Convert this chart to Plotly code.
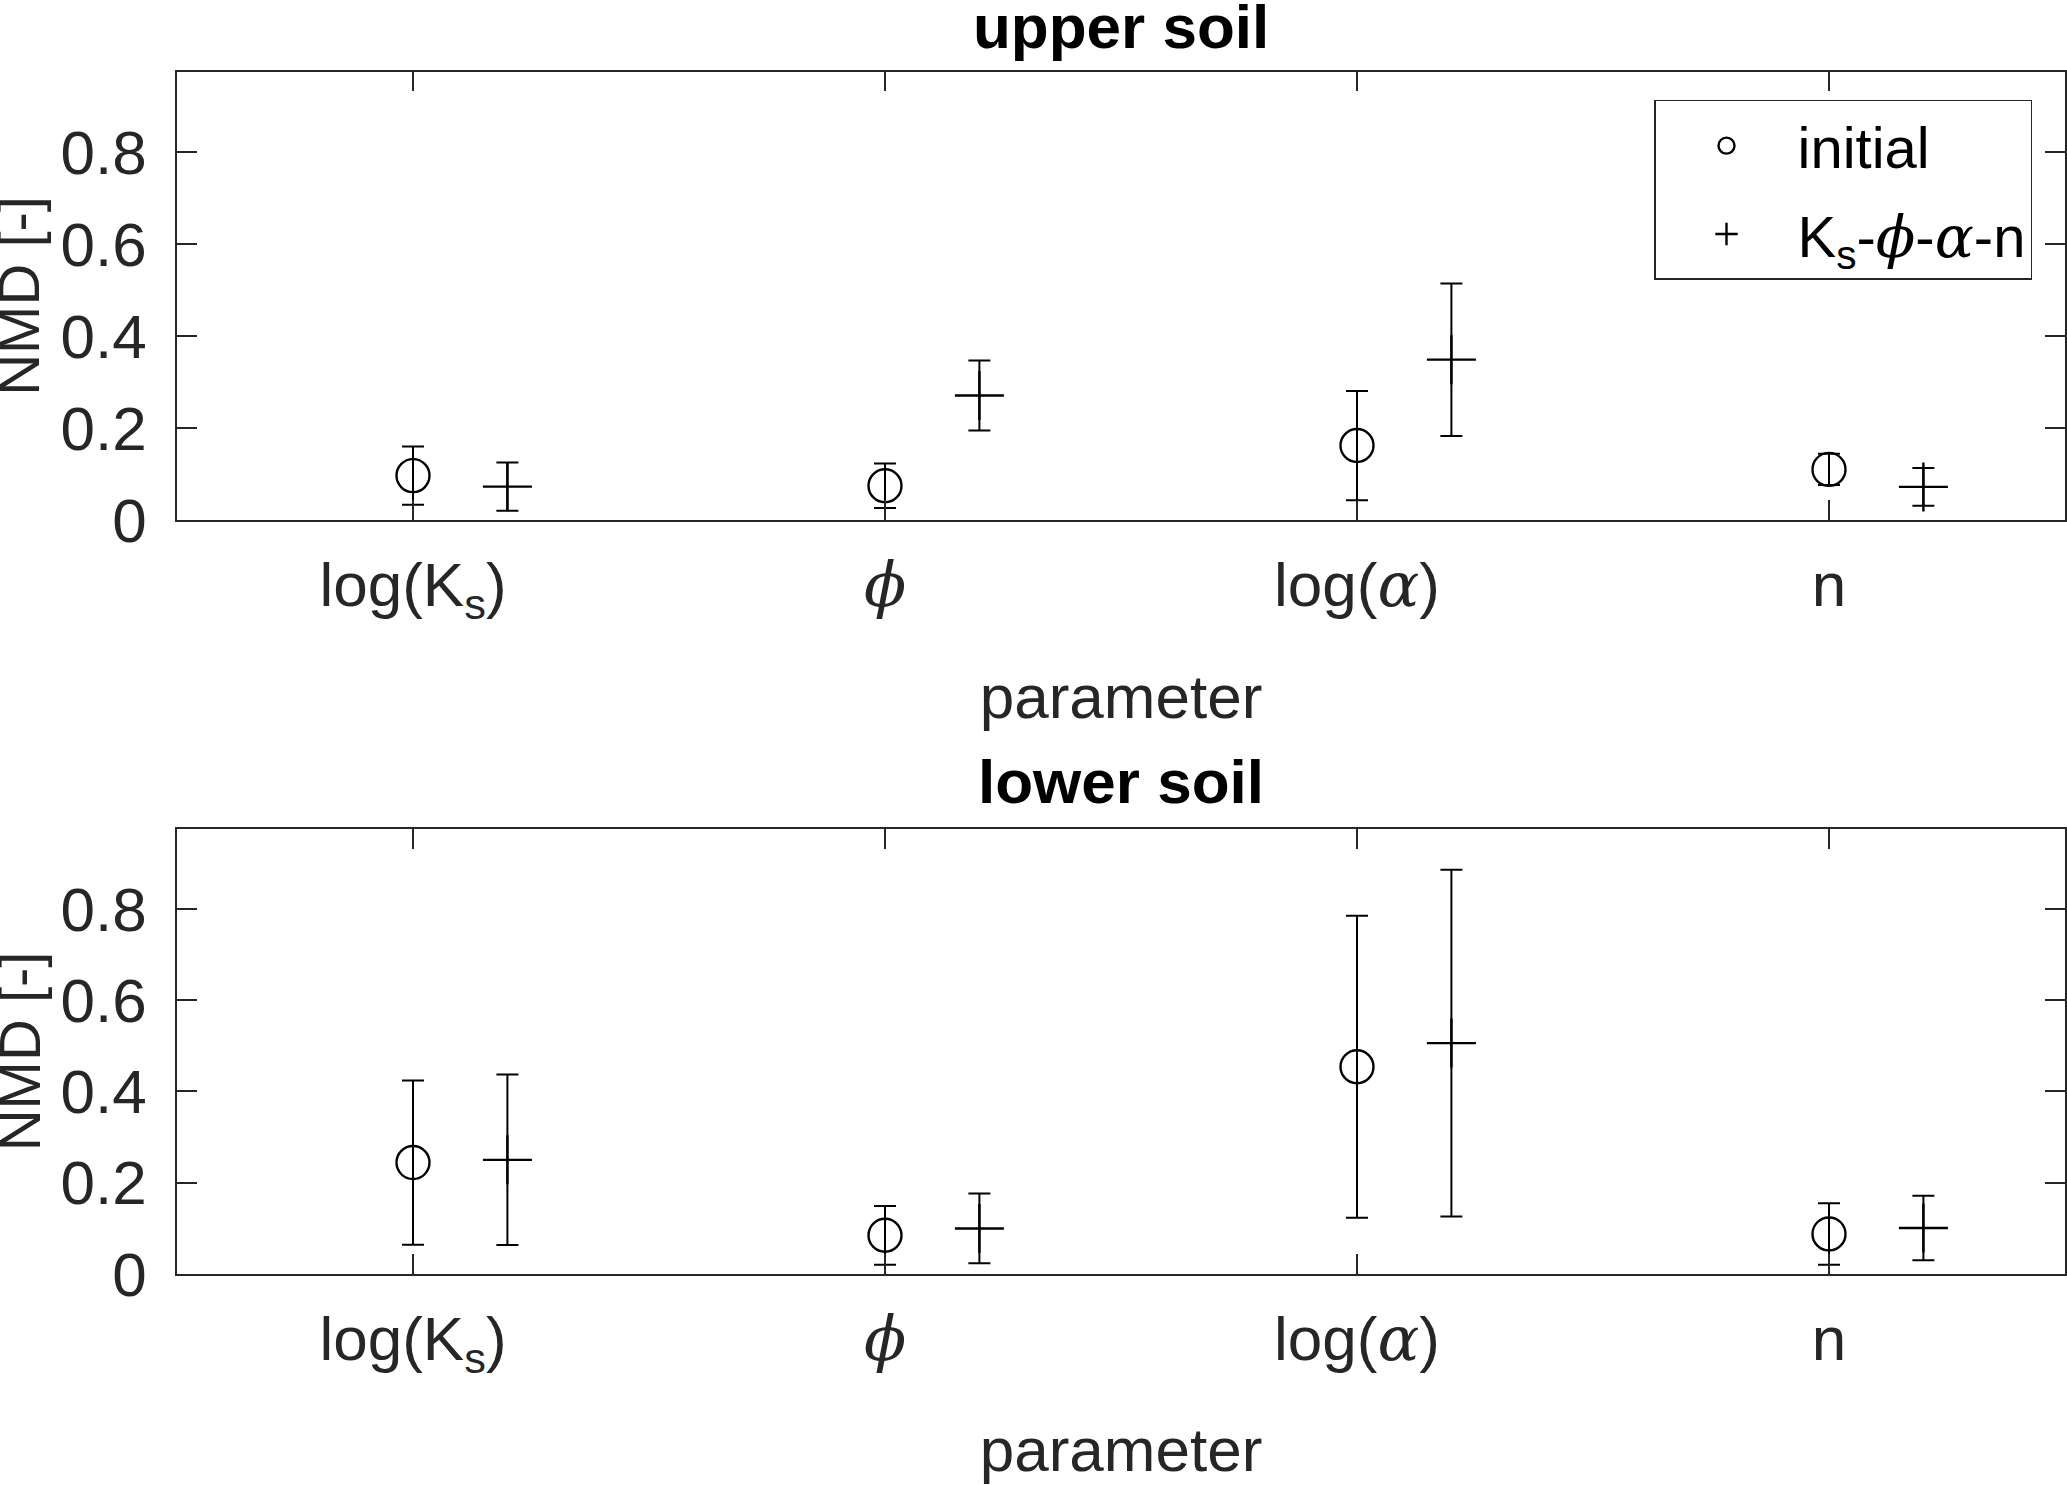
import plotly.graph_objects as go

GREEK = "<span style=\"font-family:'DejaVu Serif'\"><i>{}</i></span>"

# parameters on the x axis
params = ["log(K<sub>s</sub>)", GREEK.format("ϕ"), "log(" + GREEK.format("α") + ")", "n"]
x_pos = [1, 2, 3, 4]

# upper soil: NMD mean and spread
upper_init_mean = [0.0965, 0.0745, 0.162, 0.110]
upper_init_err = [0.0635, 0.0485, 0.119, 0.034]
upper_ks_mean = [0.0725, 0.271, 0.349, 0.072]
upper_ks_err = [0.0525, 0.076, 0.166, 0.041]

# lower soil
lower_init_mean = [0.244, 0.0845, 0.454, 0.0875]
lower_init_err = [0.180, 0.0645, 0.331, 0.0675]
lower_ks_mean = [0.250, 0.0995, 0.506, 0.1005]
lower_ks_err = [0.187, 0.0765, 0.380, 0.0705]

series_names = ["initial",
                "K<sub>s</sub>-" + GREEK.format("ϕ") + "-" + GREEK.format("α") + "-n"]

FONT = "Liberation Sans, Arial, Helvetica, sans-serif"
AXC = "#262626"
W, H = 2067, 1519     # page height as photographed
REF_H = 1485          # layout positions below are measured on a 1485 tall picture
shift = 0.2

fig = go.Figure()


def add_pair(xa, ya, m1, e1, m2, e2, legend):
    fig.add_trace(go.Scatter(
        x=x_pos, y=m1, xaxis=xa, yaxis=ya, mode="markers",
        name=series_names[0], showlegend=legend, legendgroup="init",
        marker=dict(symbol="circle-open", size=33, color="black",
                    line=dict(width=2.4, color="black")),
        error_y=dict(type="data", array=e1, color="black", thickness=2, width=11)))
    fig.add_trace(go.Scatter(
        x=[v + shift for v in x_pos], y=m2, xaxis=xa, yaxis=ya, mode="markers",
        name=series_names[1], showlegend=legend, legendgroup="ks",
        marker=dict(symbol="cross-thin-open", size=35, color="black",
                    line=dict(width=2.4, color="black")),
        error_y=dict(type="data", array=e2, color="black", thickness=2, width=11)))


add_pair("x", "y", upper_init_mean, upper_init_err, upper_ks_mean, upper_ks_err, True)
add_pair("x2", "y2", lower_init_mean, lower_init_err, lower_ks_mean, lower_ks_err, False)


def py(v):
    # pixel row on the reference -> paper fraction
    return 1 - v / REF_H


x_dom = [177 / W, 2065 / W]
up_dom = [py(520.3), py(71.7)]
lo_dom = [py(1274.7), py(829.3)]

xax = dict(range=[0.5, 4.5], tickvals=x_pos, ticktext=params, ticks="inside",
           ticklen=20, tickwidth=1.5, tickcolor=AXC, showline=True, linecolor=AXC,
           linewidth=1.6, mirror="ticks", showgrid=False, zeroline=False,
           tickfont=dict(family=FONT, size=62, color=AXC), ticklabelstandoff=10,
           title=dict(text="parameter", standoff=47,
                      font=dict(family=FONT, size=62, color=AXC)))
yax = dict(range=[0, 0.976], tickvals=[0, 0.2, 0.4, 0.6, 0.8],
           ticktext=["0", "0.2", "0.4", "0.6", "0.8"], ticks="inside",
           ticklen=20, tickwidth=1.5, tickcolor=AXC, showline=True, linecolor=AXC,
           linewidth=1.6, mirror="ticks", showgrid=False, zeroline=False,
           tickfont=dict(family=FONT, size=62, color=AXC), ticklabelstandoff=16)

fig.update_layout(
    width=W, height=H,
    margin=dict(l=0, r=0, t=0, b=0),
    paper_bgcolor="white", plot_bgcolor="white",
    xaxis=dict(xax, domain=x_dom, anchor="y"),
    yaxis=dict(yax, domain=up_dom, anchor="x"),
    xaxis2=dict(xax, domain=x_dom, anchor="y2"),
    yaxis2=dict(yax, domain=lo_dom, anchor="x2"),
    showlegend=True,
    legend=dict(x=2032 / W, y=py(100), xanchor="right", yanchor="top",
                bgcolor="white", bordercolor=AXC, borderwidth=1.5,
                font=dict(family=FONT, size=58, color="black"),
                itemsizing="trace", itemwidth=132, tracegroupgap=10),
)

cx = (x_dom[0] + x_dom[1]) / 2
notes = [
    ("<b>upper soil</b>", cx, py(27), 62, "black", 0),
    ("<b>lower soil</b>", cx, py(782), 62, "black", 0),
    ("NMD [-]", 19 / W, (up_dom[0] + up_dom[1]) / 2, 58, AXC, -90),
    ("NMD [-]", 19 / W, (lo_dom[0] + lo_dom[1]) / 2, 58, AXC, -90),
]
for txt, x, y, sz, col, ang in notes:
    fig.add_annotation(text=txt, x=x, y=y, xref="paper", yref="paper",
                       showarrow=False, textangle=ang, xanchor="center", yanchor="middle",
                       font=dict(family=FONT, size=sz, color=col))

# the page keeps the figure at its own size: no body margin, no scrollbars
fig.write_html("out.html", config={"displayModeBar": False},
               post_script="document.body.style.margin='0';"
                           "document.documentElement.style.overflow='hidden';")
